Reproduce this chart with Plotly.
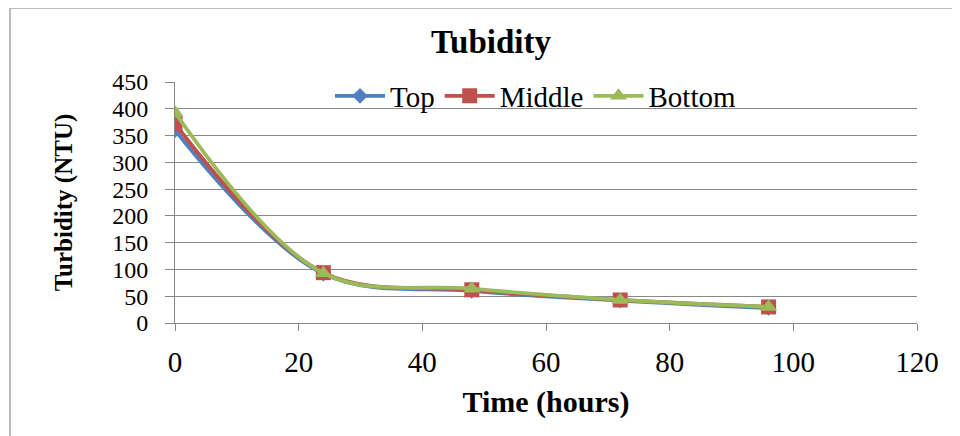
import plotly.graph_objects as go

hours = [0, 24, 48, 72, 96]
top = [360, 92, 60, 42, 28]
middle = [372, 94, 62, 43, 30]
bottom = [393, 93, 64, 43, 30]
series_names = ["Top", "Middle", "Bottom"]
colors = ["#4F81BD", "#C0504D", "#9BBB59"]
symbols = ["diamond", "square", "triangle-up"]
marker_sizes = [12, 15, 15]
x_ticks = [0, 20, 40, 60, 80, 100, 120]
y_ticks = [0, 50, 100, 150, 200, 250, 300, 350, 400, 450]

W, H = 960, 436
OFF = 8  # page body margin offset
L, R, T, B = 175 - OFF, 43 + OFF, 82 - OFF, 113 + OFF

fig = go.Figure()
for name, vals, c, s, ms in zip(series_names, [top, middle, bottom], colors, symbols, marker_sizes):
    fig.add_trace(go.Scatter(
        x=hours, y=vals, name=name, mode="lines+markers",
        line=dict(color=c, width=3.8, shape="spline", smoothing=1.0),
        marker=dict(symbol=s, size=ms, color=c),
    ))

pw = W - L - R
ph = H - T - B


def px_x(px):
    return (px - OFF - L) / pw


def px_y(py):
    return (H - B - (py - OFF)) / ph


fig.add_shape(type="rect", xref="paper", yref="paper",
              x0=px_x(10), x1=px_x(975), y0=px_y(460), y1=px_y(8),
              line=dict(color="#BBBBBB", width=2), fillcolor="rgba(0,0,0,0)", layer="below")

font_fam = "Liberation Serif, Times New Roman, serif"
fig.update_layout(
    width=W, height=H,
    margin=dict(l=L, r=R, t=T, b=B, pad=0, autoexpand=False),
    paper_bgcolor="white", plot_bgcolor="white",
    font=dict(family=font_fam, color="#000000"),
    title=dict(text="<b>Tubidity</b>", x=(491 - OFF) / W, xanchor="center",
               y=1 - (41 - OFF) / H, yanchor="middle", font=dict(size=33, family=font_fam), automargin=False),
    showlegend=True,
    legend=dict(orientation="h", x=px_x(330), xanchor="left",
                y=px_y(96), yanchor="middle", bgcolor="rgba(0,0,0,0)",
                font=dict(size=29, family=font_fam), itemwidth=50, tracegroupgap=0,
                itemclick=False),
    xaxis=dict(range=[0, 120], tickvals=x_ticks, ticks="outside", ticklen=7,
               tickcolor="#888888", showline=True, linecolor="#888888", linewidth=1,
               showgrid=False, zeroline=False, tickfont=dict(size=29, family=font_fam),
               ticklabelstandoff=6, automargin=False,
               title=dict(text="<b>Time (hours)</b>", font=dict(size=30, family=font_fam), standoff=14)),
    yaxis=dict(range=[0, 450], tickvals=y_ticks, ticks="outside", ticklen=9,
               tickcolor="#888888", showline=True, linecolor="#888888", linewidth=1,
               showgrid=True, gridcolor="#888888", gridwidth=1, zeroline=False,
               tickfont=dict(size=24, family=font_fam), ticklabelstandoff=12, automargin=False,
               title=dict(text="<b>Turbidity (NTU)</b>", font=dict(size=25, family=font_fam), standoff=32)),
)

fig.write_html("out.html")
